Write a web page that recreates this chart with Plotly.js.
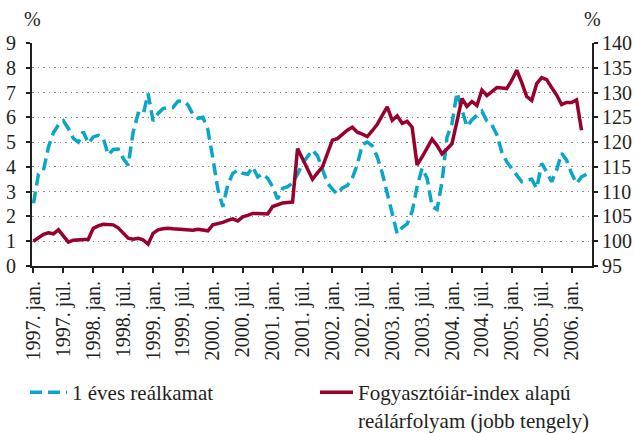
<!DOCTYPE html>
<html>
<head>
<meta charset="utf-8">
<script src="https://cdn.plot.ly/plotly-3.0.1.min.js"></script>
<style>html,body{margin:0;padding:0;background:#fff;}#chart{width:634px;height:433px;}</style>
</head>
<body>
<div id="chart"></div>
<script>
// Monthly index: 0 = 1997. jan.
const tickLabels = ["1997. jan.","1997. júl.","1998. jan.","1998. júl.","1999. jan.","1999. júl.",
  "2000. jan.","2000. júl.","2001. jan.","2001. júl.","2002. jan.","2002. júl.","2003. jan.","2003. júl.",
  "2004. jan.","2004. júl.","2005. jan.","2005. júl.","2006. jan."];
const tickMonths = [0,6,12,18,24,30,36,42,48,54,60,66,72,78,84,90,96,102,108];

// 1 éves reálkamat (%, left axis), 1997 jan .. 2006 apr
const realRate = [
  2.53,3.7,3.85,4.8,5.38,5.7,5.86,5.55,5.15,5.0,5.42,4.95,
  5.21,5.27,5.15,4.48,4.7,4.72,4.35,4.07,5.4,6.16,6.1,6.96,
  5.85,6.16,6.35,6.4,6.4,6.65,6.66,6.5,6.12,5.96,6.0,5.5,
  4.35,3.1,2.39,3.28,3.74,3.87,3.74,3.7,4.0,3.6,3.72,3.54,
  3.2,2.7,3.13,3.2,3.35,3.7,4.14,4.4,4.68,4.45,3.9,3.35,
  3.1,2.9,3.15,3.25,3.55,4.1,4.9,5.0,4.85,4.4,3.75,2.9,
  2.0,1.3,1.55,1.7,2.2,3.2,3.95,3.54,2.4,2.28,3.4,5.2,
  5.75,7.0,6.3,5.62,5.9,6.1,6.25,5.85,5.7,5.3,4.6,4.2,
  3.94,3.67,3.4,3.47,3.5,3.13,4.14,3.8,3.4,3.87,4.55,4.27,
  3.74,3.33,3.6,3.7
];

// Fogyasztóiár-index alapú reálárfolyam (right axis), 1997 jan .. 2006 mar
const realExchange = [
  100.0,100.8,101.4,101.7,101.5,102.3,101.1,99.8,100.2,100.3,100.3,100.4,
  102.6,103.1,103.4,103.4,103.3,102.7,101.7,100.6,100.4,100.6,100.3,99.4,
  101.6,102.3,102.5,102.6,102.5,102.4,102.4,102.3,102.2,102.4,102.2,102.1,
  103.3,103.5,103.8,104.2,104.5,104.1,104.9,105.2,105.6,105.6,105.6,105.5,
  107.0,107.4,107.7,107.8,107.9,118.7,116.6,114.6,112.5,113.8,115.0,117.7,
  120.4,120.7,121.6,122.4,123.0,122.0,121.6,121.1,122.3,123.6,125.4,127.1,
  124.4,125.3,123.8,124.2,123.0,115.4,117.0,118.8,120.6,119.3,117.6,118.6,
  119.7,124.2,128.8,127.2,128.2,127.4,130.5,129.4,130.3,131.0,130.9,130.8,
  132.5,134.5,132.0,129.2,128.4,131.8,133.0,132.6,131.0,129.5,127.6,128.0,
  128.0,128.5,122.4
];

const blueName = "1 éves reálkamat";
const redName = "Fogyasztóiár-index alapú<br>reálárfolyam (jobb tengely)";

const FONT = "'Liberation Serif', 'Times New Roman', serif";
const TXT = "#231f20";

const xBlue = realRate.map((_, i) => i);
const xRed = realExchange.map((_, i) => i);

const traces = [
  {x: xBlue, y: realRate, name: blueName, type: "scatter", mode: "lines",
   line: {color: "#0aa6c9", width: 3.5, dash: "12px,6px"}, yaxis: "y", legend: "legend"},
  {x: xRed, y: realExchange, name: redName, type: "scatter", mode: "lines",
   line: {color: "#98002e", width: 3.5}, yaxis: "y2", legend: "legend2"}
];

const legendBase = {orientation: "v", xref: "paper", yref: "paper",
  y: (266 - 372) / 223, xanchor: "left", yanchor: "top",
  font: {family: FONT, size: 21, color: TXT}, valign: "top",
  bgcolor: "rgba(0,0,0,0)", borderwidth: 0};

const layout = {
  width: 634, height: 433,
  margin: {l: 32, r: 42, t: 43, b: 167, pad: 0, autoexpand: false},
  paper_bgcolor: "#fff", plot_bgcolor: "#fff",
  font: {family: FONT, size: 20, color: TXT},
  showlegend: true,
  legend: Object.assign({}, legendBase, {x: (25 - 32) / 560, itemwidth: 37}),
  legend2: Object.assign({}, legendBase, {x: (315 - 32) / 560, itemwidth: 33}),
  xaxis: {range: [-0.3, 112.1], tickmode: "array", tickvals: tickMonths, ticktext: tickLabels,
    tickangle: -90, ticks: "outside", ticklen: 5, tickwidth: 2, tickcolor: TXT,
    showline: true, linecolor: TXT, linewidth: 2, showgrid: false, zeroline: false,
    tickfont: {family: FONT, size: 20, color: TXT}, fixedrange: true},
  yaxis: {range: [0, 9], dtick: 1, tick0: 0, ticks: "outside", ticklen: 4, tickwidth: 2, tickcolor: TXT,
    showline: true, linecolor: TXT, linewidth: 2, showgrid: true, gridcolor: "#8a8a8a",
    gridwidth: 1, griddash: "1.5px,4px", zeroline: false, ticklabelstandoff: 6,
    tickfont: {family: FONT, size: 20, color: TXT}},
  yaxis2: {range: [95, 140], dtick: 5, tick0: 95, overlaying: "y", side: "right", anchor: "x",
    ticks: "outside", ticklen: 4, tickwidth: 2, tickcolor: TXT,
    showline: true, linecolor: TXT, linewidth: 2, showgrid: false, zeroline: false,
    tickfont: {family: FONT, size: 20, color: TXT}},
  annotations: [
    {text: "%", xref: "paper", yref: "paper", x: 0, y: 1, xshift: 0, yshift: 24,
     xanchor: "center", yanchor: "middle", showarrow: false, font: {family: FONT, size: 20, color: TXT}},
    {text: "%", xref: "paper", yref: "paper", x: 1, y: 1, xshift: 0, yshift: 24,
     xanchor: "center", yanchor: "middle", showarrow: false, font: {family: FONT, size: 20, color: TXT}}
  ]
};

Plotly.newPlot("chart", traces, layout, {staticPlot: true, displayModeBar: false});
</script>
</body>
</html>
